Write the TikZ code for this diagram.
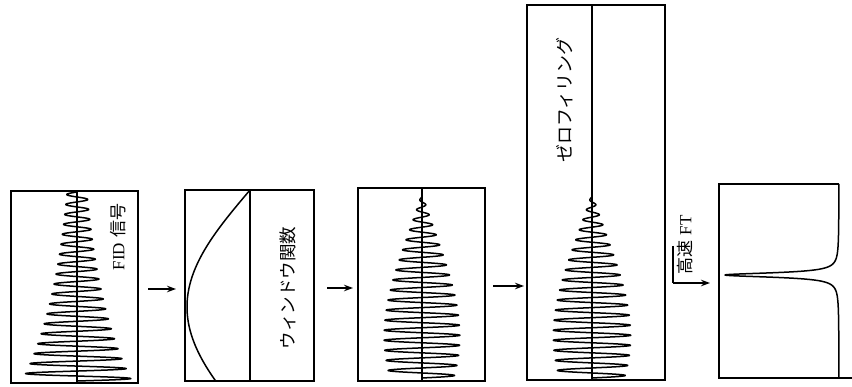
\documentclass[tikz,border=0pt]{standalone}
\usepackage{fontspec}
\setmainfont{Liberation Serif}
\newfontfamily\jp{Noto Sans CJK JP}
\usetikzlibrary{arrows.meta}
\tikzset{
  frame/.style={line width=1.5pt, line join=miter},
  axisline/.style={line width=1.1pt},
  trace/.style={line width=1.5pt, line join=round},
  flow/.style={line width=1.3pt, -{Stealth[length=9pt,width=6.5pt]}},
  vlabel/.style={rotate=90, inner sep=0pt},
}
\begin{document}
\begin{tikzpicture}[x=1pt, y=-1pt]
  \useasboundingbox (0,0) rectangle (852,387);

  % ---- panel 1: raw FID ----
  \coordinate (p1a) at (11,191);
  \coordinate (p1b) at (138,383);
  \draw[frame] (p1a) rectangle (p1b);
  \draw[axisline] (77,191) -- (77,383);
  \draw[trace] plot[domain=0:1, samples=900]
    ({77 + 55*exp(-1.7*\x)*sin(360*19*\x)}, {381 - 189*\x});
  \node[vlabel] (lab1) at (118,237)
    {\fontsize{17}{17}\selectfont FID\hspace{5pt}\jp 信号};

  % ---- panel 2: window function ----
  \coordinate (p2a) at (185,190);
  \coordinate (p2b) at (314,381);
  \draw[frame] (p2a) rectangle (p2b);
  \draw[axisline] (250,190) -- (250,381);
  \draw[trace] plot[domain=0:1, samples=200]
    ({250 - 63*sin(33 + 147*\x)}, {381 - 191*\x});
  \node[vlabel] (lab2) at (288,288)
    {\fontsize{17.5}{17.5}\selectfont\jp ウィンドウ関数};

  % ---- panel 3: apodized FID ----
  \coordinate (p3a) at (358,188);
  \coordinate (p3b) at (485,381);
  \draw[frame] (p3a) rectangle (p3b);
  \draw[axisline] (422,188) -- (422,381);
  \draw[trace] plot[domain=0:1, samples=900]
    ({422 + 45*exp(-0.6*\x)*sin(45 + 132*\x)*sin(360*18*\x)}, {378 - 181*\x});

  % ---- panel 4: zero filled FID ----
  \coordinate (p4a) at (527,5);
  \coordinate (p4b) at (665,380);
  \draw[frame] (p4a) rectangle (p4b);
  \draw[axisline] (592,5) -- (592,380);
  \draw[trace] plot[domain=0:1, samples=900]
    ({592 + 46*exp(-0.6*\x)*sin(45 + 132*\x)*sin(360*18*\x)}, {378 - 181*\x});
  \node[vlabel] (lab4) at (565,100)
    {\fontsize{18}{18}\selectfont\jp ゼロフィリング};

  % ---- panel 5: spectrum ----
  \coordinate (p5a) at (719,184);
  \coordinate (p5b) at (839,378);
  \draw[frame] (839,184) -- (p5a) |- (852,378);
  \draw[trace] plot[domain=184:378, samples=700]
    ({839 - 114*7/(7 + (\x-275)*(\x-275))}, {\x});

  % ---- flow arrows ----
  \coordinate (a1s) at (148,289);
  \coordinate (a1e) at (176,289);
  \coordinate (a2s) at (327,288);
  \coordinate (a2e) at (353,288);
  \coordinate (a3s) at (493,286);
  \coordinate (a3e) at (524,286);
  \coordinate (a4t) at (673,246);
  \coordinate (a4s) at (673,283);
  \coordinate (a4e) at (710,283);
  \draw[flow] (a1s) -- (a1e);
  \draw[flow] (a2s) -- (a2e);
  \draw[flow] (a3s) -- (a3e);
  \draw[line width=1.2pt] (a4t) -- (a4s);
  \draw[flow] (a4s) -- (a4e);
  \node[vlabel] (lab5) at (685,245)
    {\fontsize{17}{17}\selectfont\jp 高速\hspace{5pt}\rmfamily FT};
\end{tikzpicture}
\end{document}
